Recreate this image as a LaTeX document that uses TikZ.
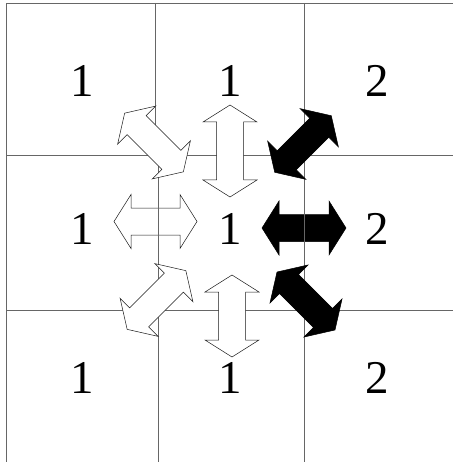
\documentclass[tikz,border=0pt]{standalone}
\usepackage{fontspec}
\setmainfont{Liberation Serif}

\tikzset{
    gridline/.style={draw=black!60, line width=0.7pt},
    whitearrow/.style={draw=black!90, line width=0.5pt, fill=white},
    blackarrow/.style={draw=black, line width=0.5pt, fill=black},
    digit/.style={font=\fontsize{47}{56}\selectfont, inner sep=0pt},
    % block arrow with two heads, #1 = half length
    pics/dblarrow/.style={code={
        \path[pic actions] (-#1,0) -- (-#1+17,27) -- (-#1+17,13.5)
            -- (#1-17,13.5) -- (#1-17,27) -- (#1,0) -- (#1-17,-27)
            -- (#1-17,-13.5) -- (-#1+17,-13.5) -- (-#1+17,-27) -- cycle;
    }}
}

\begin{document}
\begin{tikzpicture}[x=1pt, y=-1pt]
    \useasboundingbox (0,0) rectangle (453,462);

    % Arrows of the middle row lie under the grid
    \pic[whitearrow] at (155.5,221.5) {dblarrow=41.5};
    \pic[blackarrow] at (304,228) {dblarrow=42};

    % Grid
    \draw[gridline] (6,462) -- (6,3) -- (453,3);
    \draw[gridline] (155,3) -- (155,155);
    \draw[gridline] (158,155) -- (158,462);
    \draw[gridline] (304,3) -- (304,462);
    \draw[gridline] (6,155) -- (453,155);
    \draw[gridline] (6,310) -- (453,310);

    % Arrows on top of the grid
    \pic[whitearrow, rotate=-45] at (154,142.5) {dblarrow=41.5};
    \pic[whitearrow, rotate=90] at (230,151) {dblarrow=46};
    \pic[blackarrow, rotate=45] at (303,144) {dblarrow=40};
    \pic[whitearrow, rotate=45] at (156.5,300) {dblarrow=41.5};
    \pic[whitearrow, rotate=90] at (232,316) {dblarrow=41};
    \pic[blackarrow, rotate=-45] at (306,301) {dblarrow=41};

    % Cell values
    \foreach \y/\r in {81/a, 229/b, 377.5/c} {
        \node[digit] (\r1) at (82.5,\y) {1};
        \node[digit] (\r2) at (230.5,\y) {1};
        \node[digit] (\r3) at (377,\y) {2};
    }
\end{tikzpicture}
\end{document}
